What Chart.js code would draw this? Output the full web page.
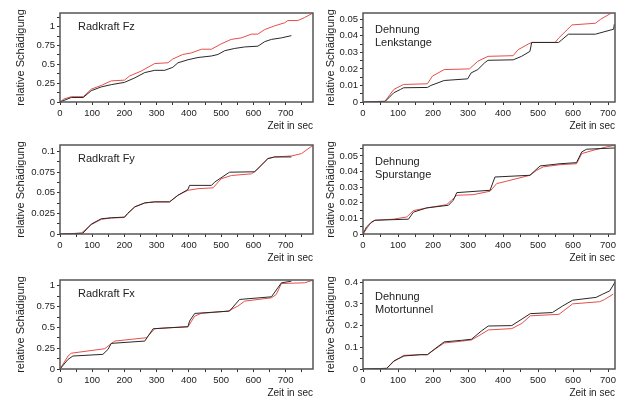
<!DOCTYPE html>
<html>
<head>
<meta charset="utf-8">
<script src="https://cdn.jsdelivr.net/npm/chart.js@4.4.0/dist/chart.umd.min.js"></script>
<style>
  body { margin: 0; background: #fff; width: 623px; height: 398px; overflow: hidden; position: relative; }
  canvas { position: absolute; }
</style>
</head>
<body>
<canvas id="fz" width="316" height="132" style="left:0px;top:0px"></canvas>
<canvas id="lenk" width="313" height="132" style="left:310px;top:0px"></canvas>
<canvas id="fy" width="316" height="132" style="left:0px;top:132px"></canvas>
<canvas id="spur" width="313" height="132" style="left:310px;top:132px"></canvas>
<canvas id="fx" width="316" height="132" style="left:0px;top:267px"></canvas>
<canvas id="motor" width="313" height="132" style="left:310px;top:267px"></canvas>
<script>
// Radkraft Fz
var fzZeitRot = [0, 12, 35, 72, 97, 128, 159, 200, 216, 252, 294, 335, 350, 381, 407, 439, 470, 500, 531, 563, 594, 614, 635, 666, 697, 707, 738, 759, 785]
var fzRot = [0, 0.04, 0.07, 0.07, 0.17, 0.22, 0.28, 0.29, 0.345, 0.41, 0.51, 0.52, 0.57, 0.63, 0.65, 0.70, 0.70, 0.77, 0.83, 0.85, 0.90, 0.90, 0.96, 1.01, 1.05, 1.08, 1.08, 1.12, 1.18]
var fzZeitSchwarz = [0, 35, 72, 97, 128, 159, 200, 232, 263, 294, 325, 350, 366, 397, 428, 470, 490, 511, 542, 573, 614, 635, 656, 687, 718]
var fzSchwarz = [0, 0.06, 0.06, 0.15, 0.20, 0.23, 0.26, 0.32, 0.39, 0.42, 0.42, 0.46, 0.52, 0.56, 0.59, 0.61, 0.63, 0.68, 0.71, 0.73, 0.74, 0.80, 0.83, 0.85, 0.88]

// Dehnung Lenkstange
var lenkZeitRot = [0, 63, 88, 116, 184, 198, 232, 304, 328, 357, 429, 443, 472, 482, 549, 559, 597, 664, 679, 708]
var lenkRot = [0, 0.0005, 0.0076, 0.0106, 0.011, 0.0156, 0.0196, 0.020, 0.0246, 0.0276, 0.028, 0.0316, 0.035, 0.036, 0.036, 0.0386, 0.0466, 0.0476, 0.050, 0.0536]
var lenkZeitSchwarz = [0, 63, 88, 107, 116, 184, 194, 232, 299, 309, 328, 347, 357, 429, 453, 477, 482, 559, 568, 587, 664, 716, 718]
var lenkSchwarz = [0, 0.0003, 0.0056, 0.0076, 0.0086, 0.0088, 0.010, 0.013, 0.014, 0.0176, 0.0196, 0.0236, 0.0252, 0.0255, 0.0276, 0.0306, 0.036, 0.036, 0.0376, 0.041, 0.041, 0.044, 0.047]

// Radkraft Fy
var fyZeitRot = [0, 66, 97, 128, 159, 200, 210, 232, 263, 294, 340, 366, 397, 428, 475, 500, 532, 594, 614, 645, 666, 718, 749, 785]
var fyRot = [0, 0.001, 0.0113, 0.0178, 0.0194, 0.020, 0.0247, 0.0328, 0.0377, 0.039, 0.039, 0.047, 0.053, 0.055, 0.056, 0.067, 0.071, 0.073, 0.079, 0.0915, 0.0935, 0.0947, 0.0975, 0.1077]
var fyZeitSchwarz = [0, 71, 97, 128, 159, 200, 210, 232, 263, 294, 340, 366, 397, 402, 470, 480, 526, 604, 645, 666, 718]
var fySchwarz = [0, 0.001, 0.012, 0.0185, 0.0197, 0.0205, 0.025, 0.033, 0.0377, 0.039, 0.039, 0.047, 0.054, 0.059, 0.059, 0.063, 0.075, 0.0755, 0.0915, 0.0935, 0.0935]

// Dehnung Spurstange
var spurZeitRot = [0, 20, 34, 87, 125, 144, 182, 239, 253, 268, 315, 363, 382, 410, 477, 496, 515, 563, 610, 625, 658, 696, 720]
var spurRot = [0, 0.0066, 0.0088, 0.0095, 0.0109, 0.015, 0.0167, 0.0188, 0.0216, 0.0248, 0.0252, 0.0274, 0.0323, 0.0338, 0.0376, 0.0408, 0.043, 0.0444, 0.045, 0.0515, 0.0536, 0.0558, 0.0568]
var spurZeitSchwarz = [0, 10, 25, 34, 130, 144, 182, 244, 258, 268, 363, 377, 477, 506, 563, 610, 625, 639, 720]
var spurSchwarz = [0, 0.0045, 0.0077, 0.0088, 0.0095, 0.014, 0.0167, 0.0184, 0.0216, 0.0265, 0.028, 0.0365, 0.0376, 0.0436, 0.045, 0.0457, 0.0526, 0.0543, 0.0551]

// Radkraft Fx
var fxZeitRot = [0, 25, 35, 139, 149, 170, 268, 294, 335, 397, 418, 438, 521, 552, 573, 656, 671, 687, 759, 785]
var fxRot = [0, 0.156, 0.19, 0.244, 0.276, 0.336, 0.376, 0.484, 0.496, 0.508, 0.636, 0.668, 0.696, 0.756, 0.816, 0.856, 0.896, 1.028, 1.036, 1.068]
var fxZeitSchwarz = [0, 25, 40, 133, 149, 159, 263, 289, 397, 402, 418, 526, 557, 656, 687, 718]
var fxSchwarz = [0, 0.116, 0.156, 0.176, 0.236, 0.308, 0.336, 0.484, 0.508, 0.576, 0.668, 0.696, 0.836, 0.868, 1.036, 1.056]

// Dehnung Motortunnel
var motorZeitRot = [0, 68, 88, 117, 165, 184, 203, 232, 281, 310, 338, 358, 425, 454, 478, 560, 599, 676, 690, 715]
var motorRot = [0, 0.003, 0.035, 0.063, 0.066, 0.066, 0.088, 0.12, 0.128, 0.134, 0.16, 0.18, 0.186, 0.21, 0.245, 0.252, 0.30, 0.31, 0.32, 0.345]
var motorZeitSchwarz = [0, 68, 88, 117, 165, 184, 203, 232, 281, 310, 338, 358, 425, 454, 478, 541, 570, 599, 666, 685, 705, 720]
var motorSchwarz = [0, 0.003, 0.037, 0.06, 0.066, 0.066, 0.09, 0.125, 0.132, 0.137, 0.175, 0.198, 0.2, 0.23, 0.255, 0.26, 0.29, 0.317, 0.33, 0.345, 0.36, 0.4]

var rot = 'rgb(230, 78, 74)'
var schwarz = 'rgb(40, 40, 40)'
var textFarbe = '#222'

Chart.defaults.font.family = "'Liberation Sans', Arial, sans-serif"

function toPoints(zeit, werte) {
  return zeit.map((t, i) => ({ x: t, y: werte[i] }))
}

// Rahmen um die Plotflaeche
var rahmen = {
  id: 'rahmen',
  afterDatasetsDraw(chart) {
    var a = chart.chartArea
    var ctx = chart.ctx
    ctx.save()
    ctx.strokeStyle = '#555'
    ctx.lineWidth = 1.5
    ctx.strokeRect(a.left, a.top, a.right - a.left, a.bottom - a.top)
    ctx.restore()
  }
}

// Beschriftung innen oben links
var kopf = {
  id: 'kopf',
  afterDraw(chart, args, opts) {
    var a = chart.chartArea
    var ctx = chart.ctx
    ctx.save()
    ctx.fillStyle = textFarbe
    ctx.font = "11px 'Liberation Sans', Arial, sans-serif"
    ctx.textBaseline = 'middle'
    opts.zeilen.forEach((z, i) => {
      ctx.fillText(z, a.left + opts.dx, a.top + opts.dy + i * 13)
    })
    ctx.restore()
  }
}

function printTheChart(id, zeilen, links, zeitRot, werteRot, zeitSchwarz, werteSchwarz, xMax, yMax, yStep) {
  var ctx = document.getElementById(id)
  new Chart(ctx, {
    type: 'line',
    data: {
      datasets: [{
        data: toPoints(zeitSchwarz, werteSchwarz),
        borderColor: schwarz,
        borderWidth: 1,
        pointRadius: 0,
        tension: 0
      }, {
        data: toPoints(zeitRot, werteRot),
        borderColor: rot,
        borderWidth: 1,
        pointRadius: 0,
        tension: 0
      }]
    },
    options: {
      responsive: false,
      animation: false,
      layout: { padding: { top: 13, right: links ? 3 : 8, left: 0, bottom: 0 } },
      plugins: {
        legend: { display: false },
        tooltip: { enabled: false },
        kopf: { zeilen: zeilen, dx: links ? 18 : 12, dy: links ? 14 : 17 }
      },
      scales: {
        x: {
          type: 'linear',
          min: 0,
          max: xMax,
          afterFit: s => { s.height = 30 },
          border: { display: false },
          grid: { drawOnChartArea: false, tickLength: 3, color: '#333' },
          ticks: {
            stepSize: 50,
            autoSkip: false,
            maxRotation: 0,
            includeBounds: false,
            padding: 3,
            color: textFarbe,
            font: { size: 9.5 },
            callback: v => (v % 100 === 0 ? String(v) : '')
          },
          title: {
            display: true,
            text: 'Zeit in sec',
            align: 'end',
            color: textFarbe,
            font: { size: 10 },
            padding: 0
          }
        },
        y: {
          min: 0,
          max: yMax,
          afterFit: s => { s.width = links ? 60 : 53 },
          border: { display: false },
          grid: { drawOnChartArea: false, tickLength: 3, color: '#333' },
          ticks: {
            stepSize: yStep / 2,
            autoSkip: false,
            includeBounds: false,
            padding: 2,
            color: textFarbe,
            font: { size: 9.5 },
            callback: v => {
              var n = v / yStep
              if (Math.abs(n - Math.round(n)) > 1e-6) return ''
              return String(parseFloat(v.toFixed(4)))
            }
          },
          title: {
            display: true,
            text: 'relative Schädigung',
            color: textFarbe,
            font: { size: 11 },
            padding: { top: 14, bottom: 0 }
          }
        }
      }
    },
    plugins: [rahmen, kopf]
  })
}

printTheChart('fz', ['Radkraft Fz'], true, fzZeitRot, fzRot, fzZeitSchwarz, fzSchwarz, 785, 1.18, 0.25)
printTheChart('lenk', ['Dehnung', 'Lenkstange'], false, lenkZeitRot, lenkRot, lenkZeitSchwarz, lenkSchwarz, 720, 0.0538, 0.01)
printTheChart('fy', ['Radkraft Fy'], true, fyZeitRot, fyRot, fyZeitSchwarz, fySchwarz, 785, 0.108, 0.025)
printTheChart('spur', ['Dehnung', 'Spurstange'], false, spurZeitRot, spurRot, spurZeitSchwarz, spurSchwarz, 720, 0.057, 0.01)
printTheChart('fx', ['Radkraft Fx'], true, fxZeitRot, fxRot, fxZeitSchwarz, fxSchwarz, 785, 1.07, 0.25)
printTheChart('motor', ['Dehnung', 'Motortunnel'], false, motorZeitRot, motorRot, motorZeitSchwarz, motorSchwarz, 720, 0.41, 0.1)
</script>
</body>
</html>
